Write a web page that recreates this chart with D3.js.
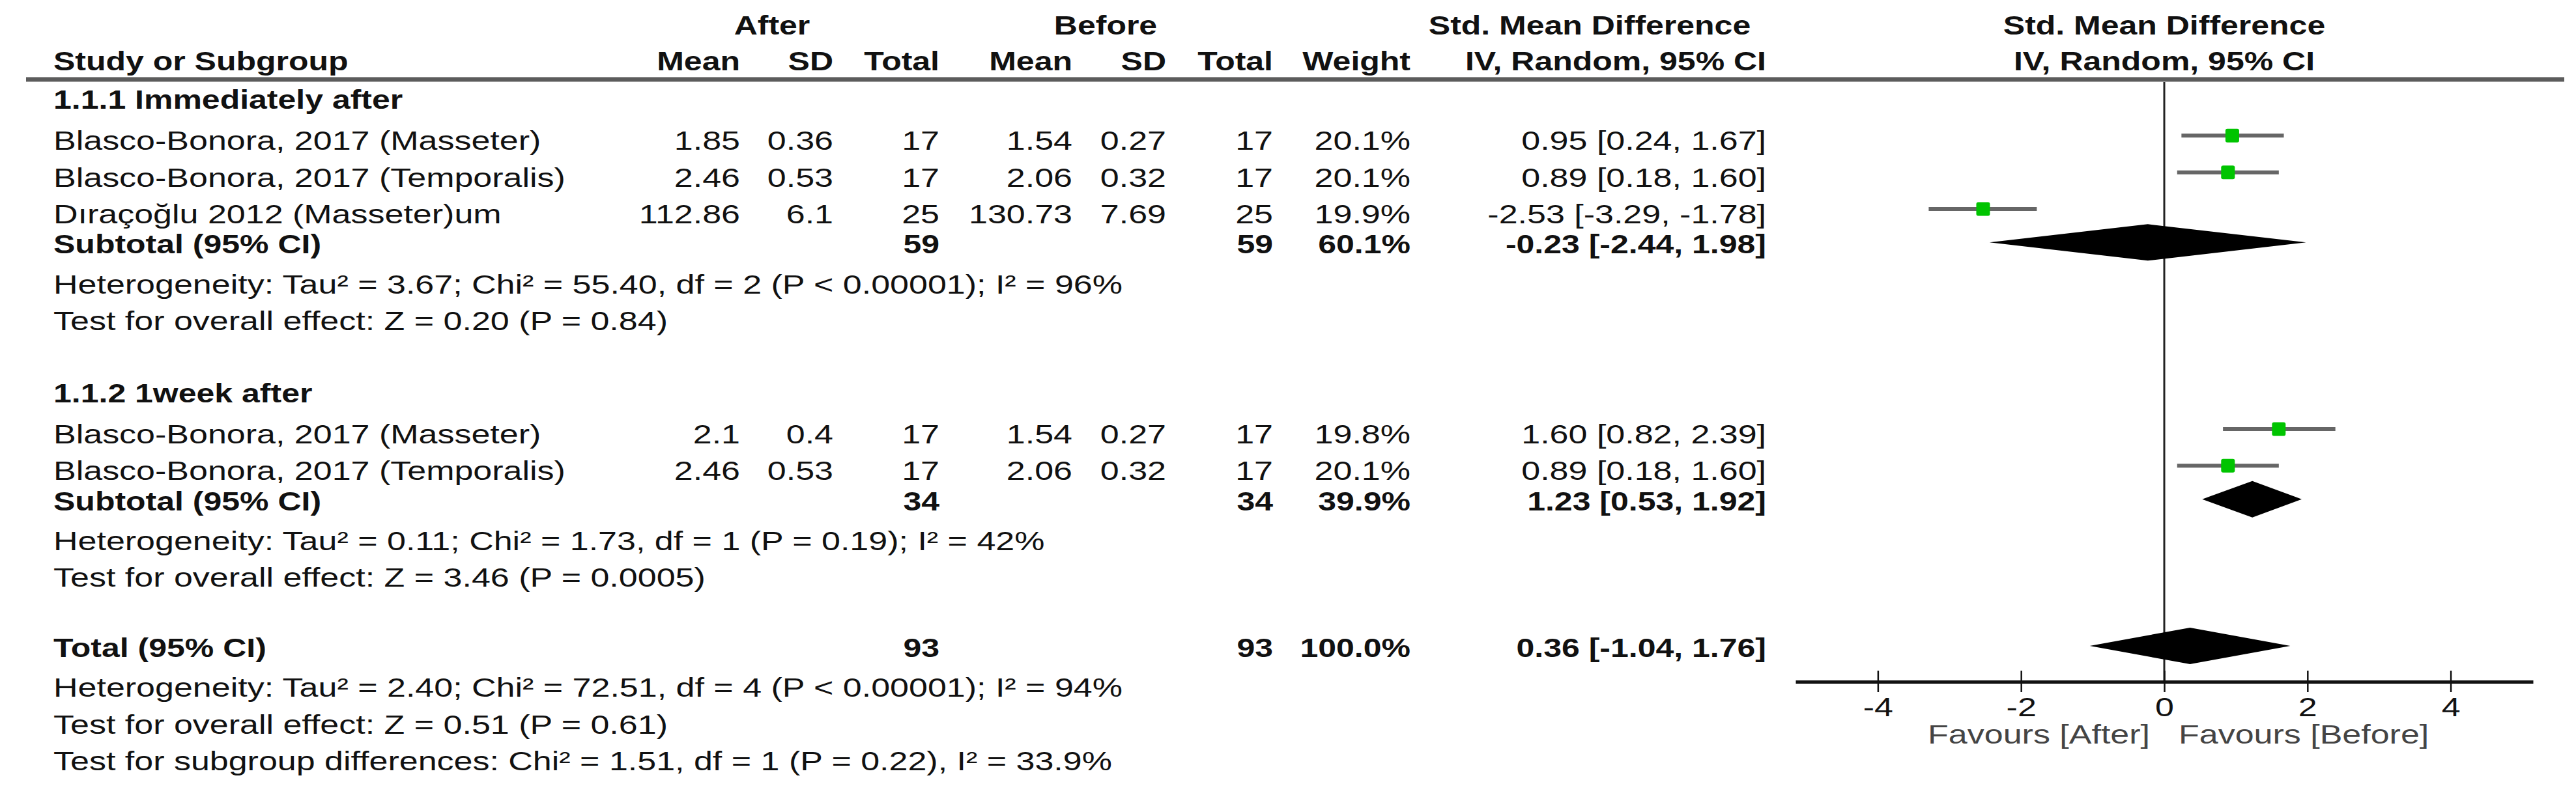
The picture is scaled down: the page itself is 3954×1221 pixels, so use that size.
<!DOCTYPE html>
<html>
<head>
<meta charset="utf-8">
<script src="https://cdn.jsdelivr.net/npm/d3@7"></script>
<style>
  body { margin: 0; background: #fff; }
  svg { font-family: "Liberation Sans", Arial, sans-serif; }
</style>
</head>
<body>
<svg id="chart"></svg>
<script>
// Forest plot: Std. Mean Difference, After vs Before

const W = 3954, H = 1221;

// ---- data ----
const studyNames   = ["Blasco-Bonora, 2017 (Masseter)", "Blasco-Bonora, 2017 (Temporalis)", "Dıraçoğlu 2012 (Masseter)um",
                      "Blasco-Bonora, 2017 (Masseter)", "Blasco-Bonora, 2017 (Temporalis)"];
const studyGroup   = [0, 0, 0, 1, 1];
const afterMean    = [1.85, 2.46, 112.86, 2.1, 2.46];
const afterSD      = [0.36, 0.53, 6.1, 0.4, 0.53];
const afterN       = [17, 17, 25, 17, 17];
const beforeMean   = [1.54, 2.06, 130.73, 1.54, 2.06];
const beforeSD     = [0.27, 0.32, 7.69, 0.27, 0.32];
const beforeN      = [17, 17, 25, 17, 17];
const studyWeight  = [20.1, 20.1, 19.9, 19.8, 20.1];
const studySMD     = [0.95, 0.89, -2.53, 1.60, 0.89];
const studyLo      = [0.24, 0.18, -3.29, 0.82, 0.18];
const studyHi      = [1.67, 1.60, -1.78, 2.39, 1.60];

const groupNames   = ["1.1.1 Immediately after", "1.1.2 1week after"];
const groupAfterN  = [59, 34];
const groupBeforeN = [59, 34];
const groupWeight  = [60.1, 39.9];
const groupSMD     = [-0.23, 1.23];
const groupLo      = [-2.44, 0.53];
const groupHi      = [1.98, 1.92];
const groupHet     = ["Heterogeneity: Tau² = 3.67; Chi² = 55.40, df = 2 (P < 0.00001); I² = 96%",
                      "Heterogeneity: Tau² = 0.11; Chi² = 1.73, df = 1 (P = 0.19); I² = 42%"];
const groupEffect  = ["Test for overall effect: Z = 0.20 (P = 0.84)",
                      "Test for overall effect: Z = 3.46 (P = 0.0005)"];

const totalN       = [93, 93];
const totalWeight  = 100.0;
const totalSMD     = [0.36, -1.04, 1.76];
const totalNotes   = ["Heterogeneity: Tau² = 2.40; Chi² = 72.51, df = 4 (P < 0.00001); I² = 94%",
                      "Test for overall effect: Z = 0.51 (P = 0.61)",
                      "Test for subgroup differences: Chi² = 1.51, df = 1 (P = 0.22), I² = 33.9%"];

const tickValues   = [-4, -2, 0, 2, 4];
const axisDomain   = [-5.15, 5.15];
const favourLabels = ["Favours [After]", "Favours [Before]"];

// ---- layout ----
const FS = 40, SX = 1.30, SXB = 1.25;
const xName = 82;
const colX = { aMean: 1136, aSD: 1279, aN: 1442, bMean: 1646, bSD: 1790, bN: 1954, w: 2165, ci: 2711 };

const svg = d3.select("#chart").attr("width", W).attr("height", H)
  .attr("font-size", FS);
svg.append("rect").attr("width", W).attr("height", H).attr("fill", "#fff");

function txt(g, x, y, s, o = {}) {
  return g.append("text")
    .attr("transform", `translate(${x},${y}) scale(${o.bold ? SXB : SX},1)`)
    .attr("text-anchor", o.anchor || "start")
    .attr("font-weight", o.bold ? "bold" : "normal")
    .attr("fill", o.fill || "#111")
    .text(s);
}

const fmtCI = (e, l, h) => `${e.toFixed(2)} [${l.toFixed(2)}, ${h.toFixed(2)}]`;

// build the list of lines
const lines = [];
groupNames.forEach((gName, gi) => {
  lines.push({ kind: "heading", text: gName });
  studyNames.forEach((n, i) => {
    if (studyGroup[i] === gi) lines.push({ kind: "study", i });
  });
  lines.push({ kind: "subtotal", gi });
  lines.push({ kind: "note", text: groupHet[gi] });
  lines.push({ kind: "note", text: groupEffect[gi] });
  lines.push({ kind: "blank" });
});
lines.push({ kind: "total" });
totalNotes.forEach(t => lines.push({ kind: "note", text: t }));

const yLine = d3.scaleLinear().domain([0, lines.length - 1]).range([167, 1181]);
const kindShift = { heading: 0, study: 7, subtotal: -3, total: -3, note: 2, blank: 0 };
lines.forEach((d, k) => d.y = yLine(k) + kindShift[d.kind]);

const x = d3.scaleLinear().domain(axisDomain).range([2756, 3888]);
const boxSize = d3.scaleSqrt().domain([0, 20]).range([0, 21]);

// ---- headers ----
const hdr = svg.append("g");
txt(hdr, 1185, 53, "After", { bold: true, anchor: "middle" });
txt(hdr, 1697, 53, "Before", { bold: true, anchor: "middle" });
txt(hdr, 2440, 53, "Std. Mean Difference", { bold: true, anchor: "middle" });
txt(hdr, x(0), 53, "Std. Mean Difference", { bold: true, anchor: "middle" });

txt(hdr, xName, 108, "Study or Subgroup", { bold: true });
[["Mean", colX.aMean], ["SD", colX.aSD], ["Total", colX.aN],
 ["Mean", colX.bMean], ["SD", colX.bSD], ["Total", colX.bN],
 ["Weight", colX.w], ["IV, Random, 95% CI", colX.ci]]
  .forEach(([t, cx]) => txt(hdr, cx, 108, t, { bold: true, anchor: "end" }));
txt(hdr, x(0), 108, "IV, Random, 95% CI", { bold: true, anchor: "middle" });

svg.append("line")
  .attr("x1", 40).attr("x2", 3936).attr("y1", 122).attr("y2", 122)
  .attr("stroke", "#5c5c5c").attr("stroke-width", 7);

// ---- zero line ----
const axisY = 1047;
svg.append("line")
  .attr("x1", x(0)).attr("x2", x(0)).attr("y1", 126).attr("y2", axisY)
  .attr("stroke", "#222").attr("stroke-width", 3);

// ---- table rows and marks ----
const body = svg.append("g");
const plot = svg.append("g");

lines.forEach(d => {
  if (d.kind === "heading") {
    txt(body, xName, d.y, d.text, { bold: true });
  } else if (d.kind === "note") {
    txt(body, xName, d.y, d.text);
  } else if (d.kind === "study") {
    const i = d.i;
    txt(body, xName, d.y, studyNames[i]);
    txt(body, colX.aMean, d.y, String(afterMean[i]), { anchor: "end" });
    txt(body, colX.aSD, d.y, String(afterSD[i]), { anchor: "end" });
    txt(body, colX.aN, d.y, String(afterN[i]), { anchor: "end" });
    txt(body, colX.bMean, d.y, String(beforeMean[i]), { anchor: "end" });
    txt(body, colX.bSD, d.y, String(beforeSD[i]), { anchor: "end" });
    txt(body, colX.bN, d.y, String(beforeN[i]), { anchor: "end" });
    txt(body, colX.w, d.y, studyWeight[i].toFixed(1) + "%", { anchor: "end" });
    txt(body, colX.ci, d.y, fmtCI(studySMD[i], studyLo[i], studyHi[i]), { anchor: "end" });

    const cy = d.y - 22;
    plot.append("line")
      .attr("x1", x(studyLo[i])).attr("x2", x(studyHi[i]))
      .attr("y1", cy).attr("y2", cy)
      .attr("stroke", "#666").attr("stroke-width", 6);
    const s = boxSize(studyWeight[i]);
    plot.append("rect")
      .attr("x", x(studySMD[i]) - s / 2).attr("y", cy - s / 2)
      .attr("width", s).attr("height", s).attr("rx", 3)
      .attr("fill", "#00c400");
  } else if (d.kind === "subtotal" || d.kind === "total") {
    const isT = d.kind === "total";
    const nA = isT ? totalN[0] : groupAfterN[d.gi];
    const nB = isT ? totalN[1] : groupBeforeN[d.gi];
    const w  = isT ? totalWeight : groupWeight[d.gi];
    const [e, lo, hi] = isT ? totalSMD : [groupSMD[d.gi], groupLo[d.gi], groupHi[d.gi]];
    txt(body, xName, d.y, isT ? "Total (95% CI)" : "Subtotal (95% CI)", { bold: true });
    txt(body, colX.aN, d.y, String(nA), { bold: true, anchor: "end" });
    txt(body, colX.bN, d.y, String(nB), { bold: true, anchor: "end" });
    txt(body, colX.w, d.y, w.toFixed(1) + "%", { bold: true, anchor: "end" });
    txt(body, colX.ci, d.y, fmtCI(e, lo, hi), { bold: true, anchor: "end" });

    const cy = d.y - 17, hh = 28;
    plot.append("path")
      .attr("d", d3.line()([[x(lo), cy], [x(e), cy - hh], [x(hi), cy], [x(e), cy + hh]]) + "Z")
      .attr("fill", "#000");
  }
});

// ---- axis ----
const axis = svg.append("g")
  .attr("transform", `translate(0,${axisY})`)
  .call(d3.axisBottom(x).tickValues(tickValues).tickSizeOuter(0).tickFormat(d => String(d)));
axis.select(".domain").attr("stroke", "#111").attr("stroke-width", 5);
axis.selectAll(".tick line").attr("y1", -17).attr("y2", 16)
  .attr("stroke", "#111").attr("stroke-width", 2.5);
axis.selectAll(".tick text")
  .attr("font-size", FS).attr("font-family", "Liberation Sans, Arial, sans-serif")
  .attr("fill", "#111").attr("y", 53).attr("dy", 0)
  .attr("transform", `scale(${SX},1)`);
axis.attr("font-size", FS);

txt(svg, x(0) - 22, 1142, favourLabels[0], { anchor: "end", fill: "#444" });
txt(svg, x(0) + 22, 1142, favourLabels[1], { fill: "#444" });
</script>
</body>
</html>
